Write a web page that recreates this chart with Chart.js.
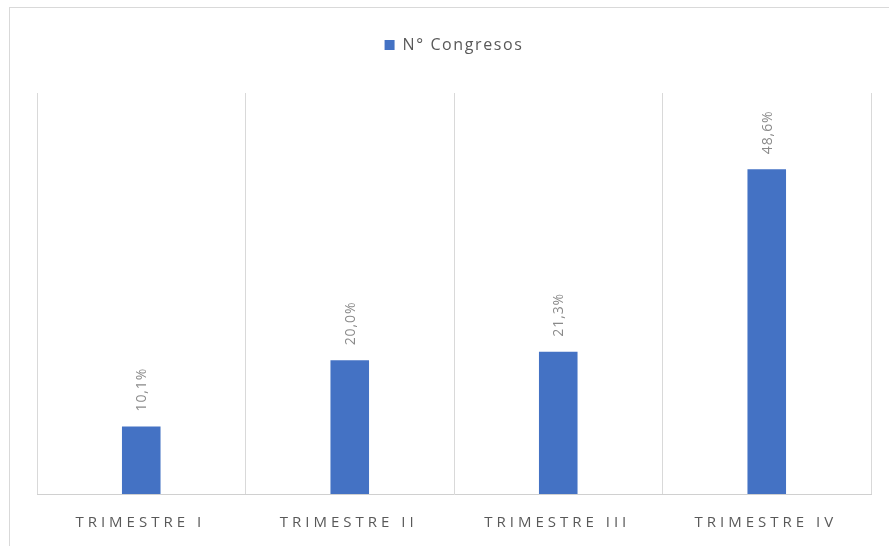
<!DOCTYPE html>
<html>
<head>
<meta charset="utf-8">
<script src="https://cdn.jsdelivr.net/npm/chart.js@4.4.1/dist/chart.umd.min.js"></script>
<style>
  html, body { margin: 0; padding: 0; background: #ffffff; }
  #wrap { position: relative; width: 889px; height: 546px; }
</style>
</head>
<body>
<div id="wrap"><canvas id="c" width="889" height="546"></canvas></div>
<script>
// Quarterly share of congresses
const categories = ['TRIMESTRE I', 'TRIMESTRE II', 'TRIMESTRE III', 'TRIMESTRE IV'];
const congresos = [10.1, 20.0, 21.3, 48.6];
const seriesName = 'N° Congresos';

const BAR_BLUE = '#4472c4';
const FONT = "'Open Sans', 'Noto Sans', sans-serif";

const fmt = v => v.toFixed(1).replace('.', ',') + '%';

// Frame around the chart, default letter spacing, extra gap under the legend
const framePlugin = {
  id: 'frame',
  afterInit(chart) {
    const legend = chart.legend;
    if (legend && !legend._gapWrapped) {
      const fit = legend.fit;
      legend.fit = function () {
        fit.call(this);
        this.height += 30;
      };
      legend._gapWrapped = true;
    }
  },
  beforeLayout(chart) { chart.ctx.letterSpacing = '1.6px'; },
  beforeDraw(chart) {
    const ctx = chart.ctx;
    ctx.save();
    ctx.strokeStyle = '#d9d9d9';
    ctx.lineWidth = 1;
    ctx.strokeRect(9.5, 7.5, 1000, 1000);
    ctx.restore();
    ctx.letterSpacing = '1.6px';
  }
};

// Rotated value labels above each bar
const valueLabels = {
  id: 'valueLabels',
  afterDatasetsDraw(chart) {
    const ctx = chart.ctx;
    const meta = chart.getDatasetMeta(0);
    ctx.save();
    ctx.font = `14px ${FONT}`;
    ctx.letterSpacing = '0.9px';
    ctx.fillStyle = '#8a8a8a';
    ctx.textAlign = 'left';
    ctx.textBaseline = 'middle';
    meta.data.forEach((bar, i) => {
      ctx.save();
      ctx.translate(bar.x + 1, bar.y - 15);
      ctx.rotate(-Math.PI / 2);
      ctx.fillText(fmt(congresos[i]), 0, 0);
      ctx.restore();
    });
    ctx.restore();
  }
};

// Spaced category labels under the axis
const categoryLabels = {
  id: 'categoryLabels',
  afterDraw(chart) {
    const ctx = chart.ctx;
    const x = chart.scales.x;
    ctx.save();
    ctx.font = `15px ${FONT}`;
    ctx.letterSpacing = '4px';
    ctx.fillStyle = '#595959';
    ctx.textAlign = 'center';
    ctx.textBaseline = 'middle';
    categories.forEach((c, i) => {
      ctx.fillText(c, x.getPixelForValue(i) - 1, 523);
    });
    ctx.restore();
  }
};

new Chart(document.getElementById('c'), {
  type: 'bar',
  data: {
    labels: categories,
    datasets: [{
      label: seriesName,
      data: congresos,
      backgroundColor: BAR_BLUE,
      borderWidth: 0,
      categoryPercentage: 1,
      barPercentage: 0.185
    }]
  },
  options: {
    responsive: false,
    animation: false,
    layout: { padding: { left: 37, right: 18, top: 15, bottom: 52 } },
    plugins: {
      tooltip: { enabled: false },
      legend: {
        position: 'top',
        labels: {
          boxWidth: 10,
          boxHeight: 10,
          color: '#595959',
          font: { family: FONT, size: 16 },
          padding: 22
        }
      }
    },
    scales: {
      x: {
        offset: true,
        grid: { display: true, offset: true, color: '#d9d9d9', drawTicks: false },
        border: { display: true, color: '#d0d0d0' },
        ticks: { display: false }
      },
      y: {
        display: false,
        min: 0,
        max: 60
      }
    }
  },
  plugins: [framePlugin, valueLabels, categoryLabels]
});
</script>
</body>
</html>
